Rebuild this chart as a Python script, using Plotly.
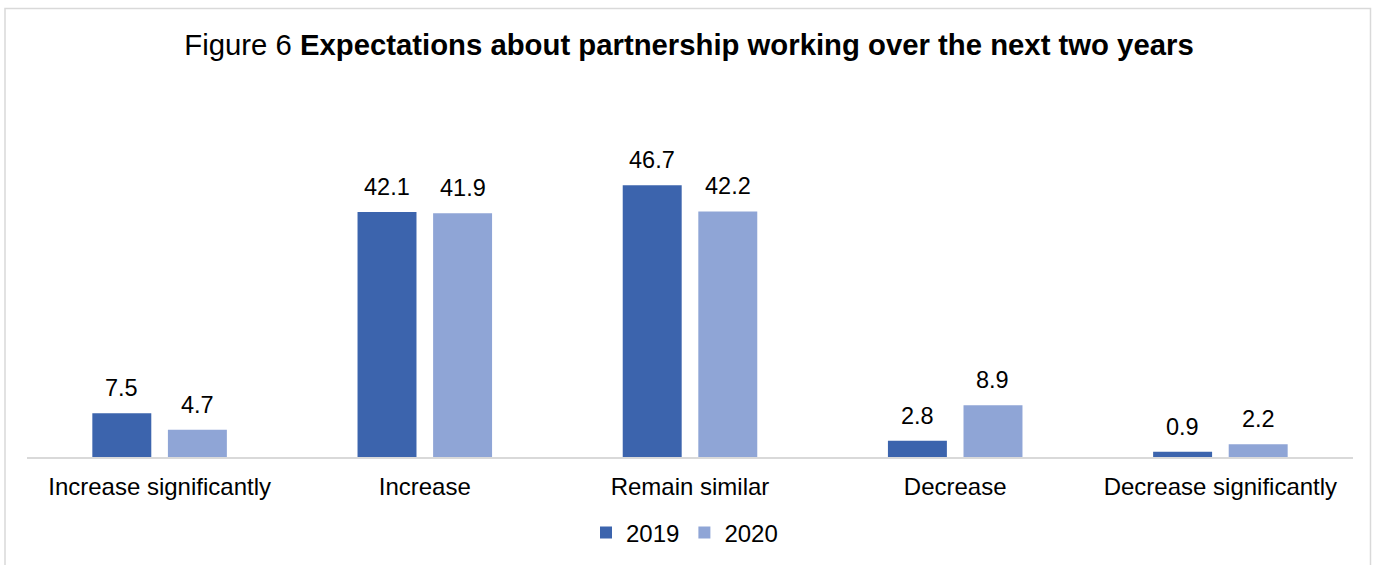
import plotly.graph_objects as go

categories = ["Increase significantly", "Increase", "Remain similar", "Decrease", "Decrease significantly"]
values_2019 = [7.5, 42.1, 46.7, 2.8, 0.9]
values_2020 = [4.7, 41.9, 42.2, 8.9, 2.2]
series_names = ["2019", "2020"]
colors = ["#3C64AD", "#8FA5D6"]

FONT = "Liberation Sans, Arial, sans-serif"
BARGAP = 0.43
BARGROUPGAP = 0.22

fig = go.Figure()
for name, vals, col in zip(series_names, [values_2019, values_2020], colors):
    fig.add_trace(go.Bar(x=categories, y=vals, name=name, marker=dict(color=col, line=dict(width=0))))

# data labels via annotations positioned through the category scale
slot = (1 - BARGAP) / len(series_names)
for k, vals in enumerate([values_2019, values_2020]):
    off = -(1 - BARGAP) / 2 + slot * (k + 0.5)
    for i, v in enumerate(vals):
        fig.add_annotation(x=i + off, y=v, xref="x", yref="y", text=f"{v:.1f}",
                           showarrow=False, yanchor="bottom", yshift=10,
                           font=dict(family=FONT, size=23.5, color="#000000"))

W, H = 1378, 565
ml, mr, mt, mb = 27, 25, 166, 108
pw, ph = W - ml - mr, H - mt - mb
axis_y = H - mb

fig.add_shape(type="rect", xref="paper", yref="paper",
              x0=(5 - ml) / pw, x1=(1370.5 - ml) / pw,
              y0=(axis_y - (H + 20)) / ph, y1=(axis_y - 8.5) / ph,
              line=dict(color="#D9D9D9", width=1.5), fillcolor="rgba(0,0,0,0)", layer="below")

fig.update_layout(
    width=W, height=H,
    margin=dict(l=ml, r=mr, t=mt, b=mb, autoexpand=False),
    paper_bgcolor="white", plot_bgcolor="white",
    barmode="group", bargap=BARGAP, bargroupgap=BARGROUPGAP,
    font=dict(family=FONT, size=24, color="#000000"),
    title=dict(text="Figure 6 <b>Expectations about partnership working over the next two years</b>",
               x=0.5, xanchor="center", y=1 - 44.5 / H, yanchor="middle", yref="container",
               font=dict(family=FONT, size=29.3, color="#000000")),
    showlegend=True,
    legend=dict(orientation="h", x=0.5 - 5.5 / pw, xanchor="center", y=(axis_y - 533) / ph, yanchor="middle",
                font=dict(family=FONT, size=24, color="#000000"), itemwidth=30, traceorder="normal"),
    xaxis=dict(type="category", showline=True, linecolor="#D9D9D9", linewidth=1.5,
               showgrid=False, ticks="", ticklabelstandoff=7,
               tickfont=dict(family=FONT, size=24, color="#000000")),
    yaxis=dict(range=[0, 50], visible=False, showgrid=False, zeroline=False),
)

fig.write_html("out.html", config={"displayModeBar": False},
               post_script="document.body.style.margin='0';")
